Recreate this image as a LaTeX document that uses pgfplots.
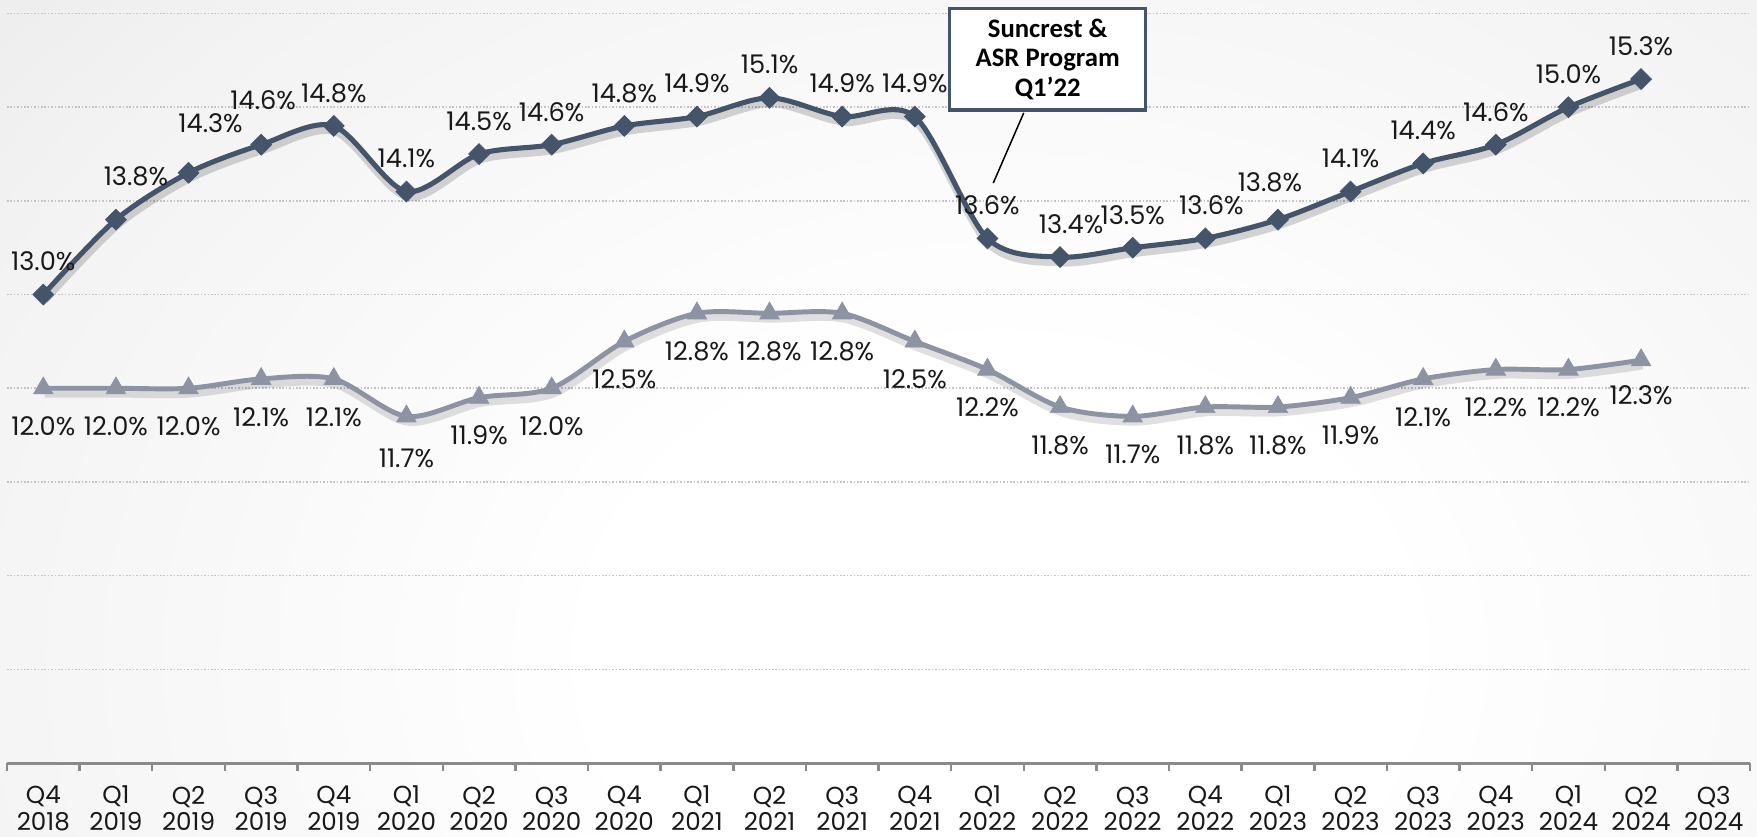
\documentclass[border=0pt]{standalone}
\usepackage{fontspec}
\setmainfont{Poppins}
\newfontfamily\calloutfont{Carlito}
\usepackage{pgfplots}
\usepackage{pgfplotstable}
\pgfplotsset{compat=1.18}

\definecolor{navy}{HTML}{44546A}
\definecolor{slate}{HTML}{8D93A3}
\definecolor{gridgray}{HTML}{C4C4C4}
\definecolor{axisgray}{HTML}{8A8A8A}
\definecolor{bggray}{HTML}{D6D6D6}
\definecolor{bgmid}{HTML}{F3F3F3}

\pgfdeclareradialshading{slidebg}{\pgfpoint{0bp}{0bp}}{%
  color(0bp)=(white); color(8bp)=(white); color(22bp)=(bgmid);
  color(45bp)=(bggray); color(80bp)=(bggray)}

% quarter, capital ratio (%), comparison ratio (%), label offsets in 0.1 mm
\pgfplotstableread{
x d t ddx ddy tdy
0 13.0 12.0 0 0 0
1 13.8 12.0 20 -10 0
2 14.3 12.0 22 -17 0
3 14.6 12.1 2 -12 0
4 14.8 12.1 0 0 0
5 14.1 11.7 0 0 4
6 14.5 11.9 0 0 0
7 14.6 12.0 0 0 0
8 14.8 12.5 0 0 0
9 14.9 12.8 0 0 0
10 15.1 12.8 0 0 0
11 14.9 12.8 0 0 0
12 14.9 12.5 0 0 0
13 13.6 12.2 0 0 0
14 13.4 11.8 11 0 0
15 13.5 11.7 0 0 0
16 13.6 11.8 6 0 0
17 13.8 11.8 -8 -4 0
18 14.1 11.9 0 0 0
19 14.4 12.1 0 0 0
20 14.6 12.2 0 0 0
21 15.0 12.2 0 0 0
22 15.3 12.3 0 0 -3
}\rates

\begin{document}
\begin{tikzpicture}
\useasboundingbox (0,0) rectangle (175.7mm,83.6mm);
\begin{scope}
  \clip (0,0) rectangle (175.7mm,83.6mm);
  \shade[shading=slidebg] (-25mm,-77mm) rectangle (225mm,113mm);
\end{scope}

\begin{axis}[
  at={(0.7mm,7.3mm)}, anchor=south west,
  scale only axis, width=174.3mm, height=74.95mm,
  xmin=-0.5, xmax=23.5, ymin=8, ymax=16,
  clip=false,
  axis x line*=bottom, axis y line*=left,
  x axis line style={draw=axisgray, line width=0.3mm},
  y axis line style={draw=none},
  ytick={8,...,16}, yticklabels={}, ytick style={draw=none},
  ymajorgrids,
  grid style={draw=gridgray, line width=0.16mm, dash pattern=on 0.16mm off 0.18mm},
  xtick={0,...,23},
  xticklabels={{Q4\\2018},{Q1\\2019},{Q2\\2019},{Q3\\2019},{Q4\\2019},
    {Q1\\2020},{Q2\\2020},{Q3\\2020},{Q4\\2020},
    {Q1\\2021},{Q2\\2021},{Q3\\2021},{Q4\\2021},
    {Q1\\2022},{Q2\\2022},{Q3\\2022},{Q4\\2022},
    {Q1\\2023},{Q2\\2023},{Q3\\2023},{Q4\\2023},
    {Q1\\2024},{Q2\\2024},{Q3\\2024}},
  major tick length=0pt,
  minor xtick={-0.5,0.5,...,23.5},
  minor tick length=0.75mm,
  tick align=outside,
  minor tick style={draw=axisgray, line width=0.25mm},
  xticklabel style={align=center, font=\fontsize{7}{7.6}\selectfont, text=black!90,
    inner sep=0.4pt, yshift=-2.1mm},
]

% soft drop shadows under the two lines
\addplot[forget plot, smooth, draw=black, opacity=0.16, line width=2.3pt, xshift=0.4pt, yshift=-1.5pt]
  table[x=x, y=d] {\rates};
\addplot[forget plot, smooth, draw=black, opacity=0.12, line width=2.3pt, xshift=0.4pt, yshift=-1.5pt]
  table[x=x, y=t] {\rates};

% comparison ratio (triangles, labels below)
\addplot[smooth, draw=slate, line width=1.4pt,
  mark=triangle*, mark size=3.2pt, mark options={solid, fill=slate, draw=slate, line width=0.2pt},
  visualization depends on={\thisrow{tdy} \as \tdy},
  nodes near coords={\pgfmathprintnumber[fixed, fixed zerofill, precision=1, assume math mode=true]{\pgfplotspointmeta}\%},
  every node near coord/.append style={anchor=center, font=\fontsize{7.3}{8}\selectfont, text=black!90,
    yshift={-(38+\tdy)*0.1mm}},
] table[x=x, y=t] {\rates};

% capital ratio (diamonds, labels above)
\addplot[smooth, draw=navy, line width=1.45pt,
  mark=square*, mark size=2.1pt, mark options={solid, rotate=45, fill=navy, draw=navy, line width=0.2pt},
  visualization depends on={\thisrow{ddx} \as \ddx},
  visualization depends on={\thisrow{ddy} \as \ddy},
  nodes near coords={\pgfmathprintnumber[fixed, fixed zerofill, precision=1, assume math mode=true]{\pgfplotspointmeta}\%},
  every node near coord/.append style={anchor=center, font=\fontsize{7.3}{8}\selectfont, text=black!90,
    xshift={\ddx*0.1mm}, yshift={(33-\ddy)*0.1mm}},
] table[x=x, y=d] {\rates};

% callout for the program launch
\draw[black, line width=0.15mm] (axis cs:13.50,14.94) -- (axis cs:13.08,14.19);
\draw[navy, line width=0.32mm, fill=white] (axis cs:12.48,14.97) rectangle (axis cs:15.18,16.05);
\node[align=center, font=\calloutfont\bfseries\fontsize{7.6}{8.3}\selectfont, text=black]
  at (axis cs:13.83,15.51) {Suncrest \&\\ASR Program\\Q1’22};
\end{axis}
\end{tikzpicture}
\end{document}
